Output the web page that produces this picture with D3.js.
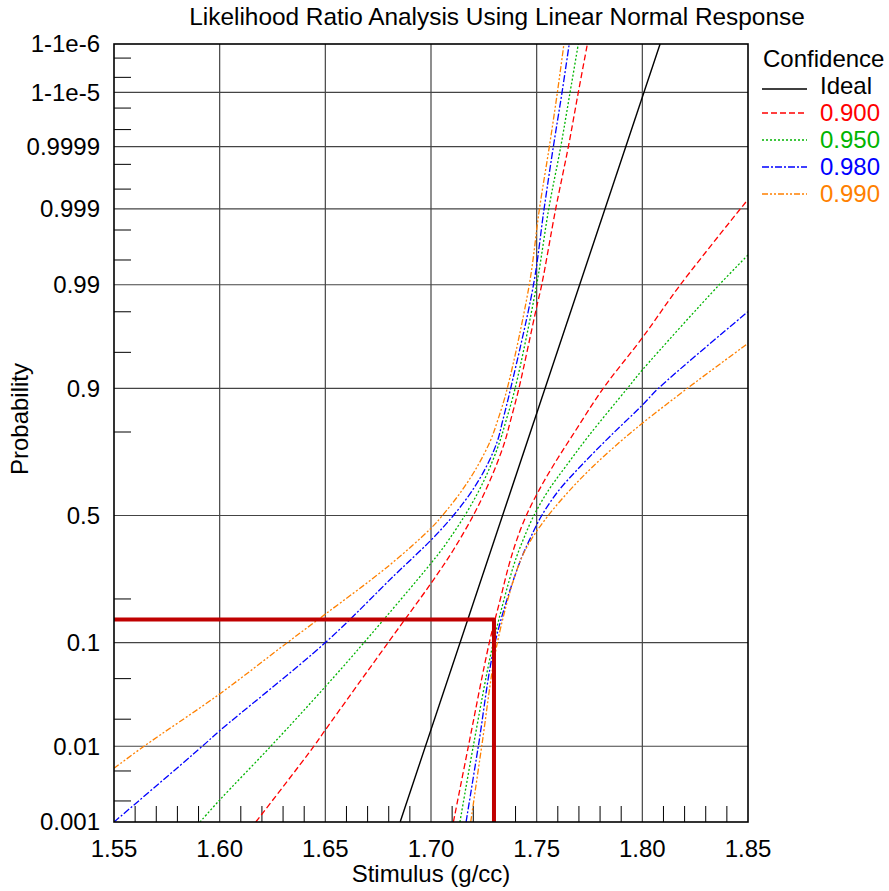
<!DOCTYPE html>
<html>
<head>
  <meta charset="utf-8">
  <title>Likelihood Ratio Analysis Using Linear Normal Response</title>
  <style>
    body { margin: 0; background: #fff; }
    text { font-family: "Liberation Sans", Arial, sans-serif; }
  </style>
</head>
<body>
  <script src="https://cdn.jsdelivr.net/npm/d3@7/dist/d3.min.js"></script>
  <script>

    // ---- data: [stimulus (g/cc), probability] ----
    var levels = ["Ideal", "0.900", "0.950", "0.980", "0.990"];
    var levelColors = ["#000000", "#ff0000", "#00b400", "#0000ff", "#ff8000"];

    var idealLine = [[1.6854, 0.001], [1.8084, 0.999999]];

    // left branch of each confidence band
    var left900 = [[1.6171, 0.001], [1.6446, 0.01], [1.65, 0.0153], [1.6797, 0.1], [1.70, 0.247], [1.7105, 0.363],
      [1.7200, 0.5], [1.7258, 0.599], [1.7308, 0.692], [1.7350, 0.773], [1.7377, 0.832], [1.7416, 0.9],
      [1.75, 0.9823], [1.7524, 0.99], [1.7590, 0.999], [1.7650, 0.9999], [1.7697, 0.99999], [1.7740, 0.999999]];
    var left950 = [[1.5907, 0.001], [1.60, 0.00206], [1.6242, 0.01], [1.65, 0.0422], [1.6683, 0.1], [1.70, 0.315],
      [1.7066, 0.382], [1.7160, 0.5], [1.7227, 0.599], [1.7282, 0.692], [1.7326, 0.773], [1.7356, 0.832],
      [1.7398, 0.9], [1.7500, 0.99], [1.7557, 0.999], [1.7614, 0.9999], [1.7658, 0.99999], [1.7697, 0.999999]];
    var left980 = [[1.55, 0.001], [1.5918, 0.01], [1.60, 0.0150], [1.65, 0.1], [1.6828, 0.274], [1.70, 0.402],
      [1.7106, 0.5], [1.7195, 0.599], [1.7264, 0.692], [1.7314, 0.773], [1.7340, 0.832], [1.7377, 0.9],
      [1.7485, 0.99], [1.7535, 0.999], [1.7579, 0.9999], [1.7620, 0.99999], [1.7654, 0.999999]];
    var left990 = [[1.55, 0.0054], [1.5642, 0.01], [1.60, 0.036], [1.6320, 0.1], [1.65, 0.160], [1.6805, 0.309],
      [1.70, 0.449], [1.7054, 0.5], [1.7146, 0.599], [1.7221, 0.692], [1.7280, 0.773], [1.7316, 0.832],
      [1.7361, 0.9], [1.7465, 0.99], [1.7513, 0.999], [1.7560, 0.9999], [1.7598, 0.99999], [1.7629, 0.999999]];

    // right branch of each confidence band
    var right900 = [[1.7106, 0.001], [1.7177, 0.01], [1.7276, 0.1], [1.7327, 0.197], [1.7369, 0.309], [1.7405, 0.401],
      [1.7451, 0.5], [1.7510, 0.599], [1.7578, 0.692], [1.7667, 0.788], [1.7815, 0.9], [1.80, 0.9634],
      [1.8180, 0.99], [1.85, 0.99928]];
    var right950 = [[1.7137, 0.001], [1.7200, 0.01], [1.7295, 0.1], [1.7392, 0.309], [1.7435, 0.401], [1.7487, 0.5],
      [1.7555, 0.599], [1.7640, 0.692], [1.7745, 0.788], [1.7929, 0.9], [1.80, 0.9288], [1.8364, 0.99],
      [1.85, 0.99568]];
    var right980 = [[1.7166, 0.001], [1.7224, 0.01], [1.7303, 0.1], [1.7415, 0.309], [1.7465, 0.401], [1.7524, 0.5],
      [1.7604, 0.599], [1.7710, 0.692], [1.7848, 0.788], [1.80, 0.867], [1.8076, 0.9], [1.85, 0.98004]];
    var right990 = [[1.7188, 0.001], [1.7240, 0.01], [1.7314, 0.1], [1.7415, 0.309], [1.7472, 0.401], [1.7555, 0.5],
      [1.7655, 0.599], [1.7770, 0.692], [1.7898, 0.773], [1.80, 0.8237], [1.8213, 0.9], [1.85, 0.9587]];

    // threshold marker (thick red)
    var markStim = 1.7298;
    var markProb = 0.147;

    // ticks
    var xTicks = [1.55, 1.60, 1.65, 1.70, 1.75, 1.80, 1.85];
    var xMinor = [1.56, 1.57, 1.58, 1.59, 1.61, 1.62, 1.63, 1.64, 1.66, 1.67, 1.68, 1.69, 1.71, 1.72, 1.73, 1.74,
      1.76, 1.77, 1.78, 1.79, 1.81, 1.82, 1.83, 1.84];
    var yTicks = [0.001, 0.01, 0.1, 0.5, 0.9, 0.99, 0.999, 0.9999, 1 - 1e-5, 1 - 1e-6];
    var yTickLabels = ["0.001", "0.01", "0.1", "0.5", "0.9", "0.99", "0.999", "0.9999", "1-1e-5", "1-1e-6"];
    var yMinor = [0.002, 0.005, 0.02, 0.05, 0.2, 0.8, 0.95, 0.98, 0.995, 0.998, 0.9995, 0.9998,
      1 - 5e-5, 1 - 2e-5, 1 - 5e-6, 1 - 2e-6];

    // inverse normal cdf (Acklam) for the probability axis
    function probit(p) {
      var a = [-3.969683028665376e+01, 2.209460984245205e+02, -2.759285104469687e+02, 1.383577518672690e+02, -3.066479806614716e+01, 2.506628277459239e+00];
      var b = [-5.447609879822406e+01, 1.615858368580409e+02, -1.556989798598866e+02, 6.680131188771972e+01, -1.328068155288572e+01];
      var c = [-7.784894002430293e-03, -3.223964580411365e-01, -2.400758277161838e+00, -2.549671010139328e+00, 4.374664141464968e+00, 2.938163982698783e+00];
      var d = [7.784695709041462e-03, 3.224671290700398e-01, 2.445134137142996e+00, 3.754408661907416e+00];
      var plow = 0.02425, q, r;
      if (p < plow) {
        q = Math.sqrt(-2 * Math.log(p));
        return (((((c[0]*q+c[1])*q+c[2])*q+c[3])*q+c[4])*q+c[5]) / ((((d[0]*q+d[1])*q+d[2])*q+d[3])*q+1);
      }
      if (p > 1 - plow) {
        q = Math.sqrt(-2 * Math.log(1 - p));
        return -(((((c[0]*q+c[1])*q+c[2])*q+c[3])*q+c[4])*q+c[5]) / ((((d[0]*q+d[1])*q+d[2])*q+d[3])*q+1);
      }
      q = p - 0.5; r = q * q;
      return (((((a[0]*r+a[1])*r+a[2])*r+a[3])*r+a[4])*r+a[5])*q / (((((b[0]*r+b[1])*r+b[2])*r+b[3])*r+b[4])*r+1);
    }

    var width = 889, height = 891;
    var margin = {top: 44, right: 141, bottom: 69, left: 114};
    var fs = 24;

    var x = d3.scaleLinear().domain([1.55, 1.85]).range([margin.left, width - margin.right]);
    var z = d3.scaleLinear().domain([probit(0.001), probit(1 - 1e-6)]).range([height - margin.bottom, margin.top]);
    var y = function(p) { return z(probit(p)); };

    var svg = d3.select("body").append("svg")
      .attr("width", width)
      .attr("height", height);

    var x0 = margin.left, x1 = width - margin.right;
    var y0 = height - margin.bottom, y1 = margin.top;

    // grid lines
    var grid = svg.append("g").attr("id", "grid")
      .attr("stroke", "#444").attr("stroke-width", 1.2);
    grid.selectAll(".vg").data(xTicks.slice(1, -1)).enter().append("line")
      .attr("x1", function(d) { return x(d); }).attr("x2", function(d) { return x(d); })
      .attr("y1", y0).attr("y2", y1);
    grid.selectAll(".hg").data(yTicks.slice(1, -1)).enter().append("line")
      .attr("x1", x0).attr("x2", x1)
      .attr("y1", function(d) { return y(d); }).attr("y2", function(d) { return y(d); });

    // minor ticks
    var ticks = svg.append("g").attr("id", "minor").attr("stroke", "#000").attr("stroke-width", 1);
    ticks.selectAll(".xm").data(xMinor).enter().append("line")
      .attr("x1", function(d) { return x(d); }).attr("x2", function(d) { return x(d); })
      .attr("y1", y0).attr("y2", y0 - 16);
    ticks.selectAll(".ym").data(yMinor).enter().append("line")
      .attr("x1", x0).attr("x2", x0 + 17)
      .attr("y1", function(d) { return y(d); }).attr("y2", function(d) { return y(d); });

    // curves
    var line = d3.line()
      .x(function(d) { return x(d[0]); })
      .y(function(d) { return y(d[1]); })
      .curve(d3.curveCatmullRom.alpha(0.5));

    var dashes = ["none", "6,3", "2,2", "7,2,2,2", "6,2,2,2,2,2"];
    var curves = [
      {data: idealLine, k: 0},
      {data: left900, k: 1}, {data: right900, k: 1},
      {data: left950, k: 2}, {data: right950, k: 2},
      {data: left980, k: 3}, {data: right980, k: 3},
      {data: left990, k: 4}, {data: right990, k: 4}
    ];

    svg.append("clipPath").attr("id", "plotclip")
      .append("rect").attr("x", x0).attr("y", y1).attr("width", x1 - x0).attr("height", y0 - y1);

    svg.append("g").attr("id", "curves").attr("clip-path", "url(#plotclip)")
      .selectAll("path").data(curves).enter().append("path")
      .attr("d", function(d) { return line(d.data); })
      .attr("fill", "none")
      .attr("stroke", function(d) { return levelColors[d.k]; })
      .attr("stroke-width", function(d) { return d.k == 0 ? 1.4 : 1.3; })
      .attr("stroke-dasharray", function(d) { return dashes[d.k]; });

    // threshold marker
    var mark = [[1.55, markProb], [markStim, markProb], [markStim, 0.001]];
    svg.append("path")
      .attr("d", d3.line().x(function(d) { return x(d[0]); }).y(function(d) { return y(d[1]); })(mark))
      .attr("fill", "none")
      .attr("stroke", "#c00000")
      .attr("stroke-width", 4)
      .attr("stroke-linejoin", "round");

    // frame
    svg.append("rect")
      .attr("x", x0).attr("y", y1)
      .attr("width", x1 - x0).attr("height", y0 - y1)
      .attr("fill", "none").attr("stroke", "#000").attr("stroke-width", 1.6);

    // tick labels
    svg.append("g").selectAll("text").data(xTicks).enter().append("text")
      .attr("x", function(d) { return x(d); })
      .attr("y", y0 + 34.5)
      .attr("text-anchor", "middle")
      .attr("font-size", fs)
      .text(function(d) { return d.toFixed(2); });

    svg.append("g").selectAll("text").data(yTicks).enter().append("text")
      .attr("x", x0 - 14)
      .attr("y", function(d) { return y(d); })
      .attr("dy", "0.35em")
      .attr("text-anchor", "end")
      .attr("font-size", fs)
      .text(function(d, i) { return yTickLabels[i]; });

    // axis titles
    svg.append("text")
      .attr("x", (x0 + x1) / 2)
      .attr("y", 882)
      .attr("text-anchor", "middle")
      .attr("font-size", fs)
      .text("Stimulus (g/cc)");

    svg.append("text")
      .attr("transform", "translate(28,419) rotate(-90)")
      .attr("text-anchor", "middle")
      .attr("font-size", fs)
      .text("Probability");

    svg.append("text")
      .attr("x", 497)
      .attr("y", 25)
      .attr("text-anchor", "middle")
      .attr("font-size", 24.4)
      .text("Likelihood Ratio Analysis Using Linear Normal Response");

    // legend
    var legend = svg.append("g").attr("id", "legend");
    legend.append("text")
      .attr("x", 763).attr("y", 67)
      .attr("font-size", fs)
      .text("Confidence");

    var rows = legend.selectAll(".row").data(levels).enter().append("g")
      .attr("transform", function(d, i) { return "translate(0," + (86 + i * 27) + ")"; });
    rows.append("line")
      .attr("x1", 762).attr("x2", 807)
      .attr("y1", function(d, i) { return i == 0 ? 3 : 0; })
      .attr("y2", function(d, i) { return i == 0 ? 3 : 0; })
      .attr("stroke", function(d, i) { return levelColors[i]; })
      .attr("stroke-width", 1.3)
      .attr("stroke-dasharray", function(d, i) { return dashes[i]; });
    rows.append("text")
      .attr("x", 820)
      .attr("dy", "0.35em")
      .attr("font-size", fs)
      .attr("fill", function(d, i) { return levelColors[i]; })
      .text(function(d) { return d; });

  </script>
</body>
</html>
